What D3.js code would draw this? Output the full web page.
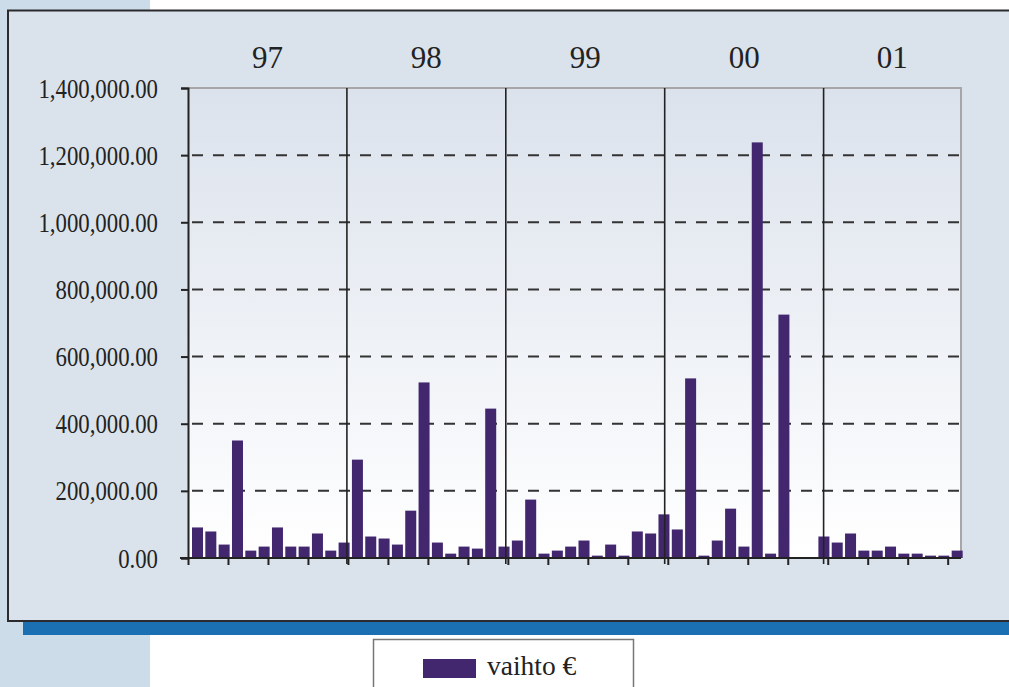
<!DOCTYPE html>
<html>
<head>
<meta charset="utf-8">
<script src="https://cdn.jsdelivr.net/npm/d3@7"></script>
<style>
  body { margin: 0; background: #fff; }
  svg { display: block; }
  text { font-family: "Liberation Serif", "DejaVu Serif", serif; fill: #222; }
</style>
</head>
<body>
<svg id="chart" width="1009" height="687"></svg>
<script>
// monthly values, Jan 97 .. Oct 01
const years = ['97', '98', '99', '00', '01']
const vaihto = [
  91000, 79000, 40000, 350000, 22000, 34000, 91000, 34000, 34000, 73000, 22000, 46000,
  293000, 64000, 58000, 40000, 141000, 523000, 46000, 13000, 34000, 28000, 445000, 34000,
  52000, 174000, 13000, 22000, 34000, 52000, 7000, 40000, 7000, 79000, 73000, 130000,
  85000, 535000, 7000, 52000, 147000, 34000, 1238000, 13000, 725000, 0, 0, 64000,
  46000, 73000, 22000, 22000, 34000, 13000, 13000, 7000, 7000, 22000
]
const yTicks = [0, 200000, 400000, 600000, 800000, 1000000, 1200000, 1400000]
const legendLabel = 'vaihto €'

const svg = d3.select('#chart')
const barColor = '#42276f'

// page background pieces
svg.append('rect').attr('x', 0).attr('y', 0).attr('width', 150).attr('height', 687).attr('fill', '#ccdce8')
svg.append('rect').attr('x', 23).attr('y', 620).attr('width', 986).attr('height', 15).attr('fill', '#1a70b2')
svg.append('rect')
  .attr('x', 8).attr('y', 10.5).attr('width', 1003).attr('height', 610.5)
  .attr('fill', '#dae2ec').attr('stroke', '#2b2b2e').attr('stroke-width', 2)

const plot = { left: 188, right: 961, top: 88, bottom: 558 }
const w = plot.right - plot.left

const defs = svg.append('defs')
const grad = defs.append('linearGradient').attr('id', 'bg').attr('x1', 0).attr('y1', 0).attr('x2', 0).attr('y2', 1)
grad.append('stop').attr('offset', '0%').attr('stop-color', '#dbe2ec')
grad.append('stop').attr('offset', '100%').attr('stop-color', '#ffffff')

const g = svg.append('g')

g.append('rect')
  .attr('x', plot.left).attr('y', plot.top)
  .attr('width', w).attr('height', plot.bottom - plot.top)
  .attr('fill', 'url(#bg)')

const x = d3.scaleLinear()
  .domain([0, vaihto.length])
  .range([plot.left, plot.right])

// year sections are a bit narrower than 12 month slots in the original
const xYear = d3.scaleLinear()
  .domain([0, 1])
  .range([plot.left, plot.left + 158.9])

const y = d3.scaleLinear()
  .domain([0, 1400000])
  .range([plot.bottom, plot.top])

// dashed gridlines
g.selectAll('.grid')
  .data(yTicks.filter(d => d > 0 && d < 1400000))
  .enter().append('line')
  .attr('class', 'grid')
  .attr('x1', plot.left).attr('x2', plot.right)
  .attr('y1', d => y(d)).attr('y2', d => y(d))
  .attr('stroke', '#333').attr('stroke-width', 2)
  .attr('stroke-dasharray', '11,10')
  .attr('stroke-dashoffset', -4)

// plot border top and right (grey)
g.append('path')
  .attr('d', `M${plot.left},${plot.top}H${plot.right}V${plot.bottom}`)
  .attr('fill', 'none').attr('stroke', '#a8a6a6').attr('stroke-width', 2)

// bars
g.selectAll('rect.bar')
  .data(vaihto)
  .enter().append('rect')
  .attr('class', 'bar')
  .attr('x', (d, i) => x(i) + 4)
  .attr('y', d => y(d))
  .attr('width', 11)
  .attr('height', d => y(0) - y(d))
  .attr('fill', barColor)

// year separators
g.selectAll('.sep')
  .data(d3.range(1, years.length))
  .enter().append('line')
  .attr('class', 'sep')
  .attr('x1', d => xYear(d)).attr('x2', d => xYear(d))
  .attr('y1', plot.top).attr('y2', plot.bottom + 6)
  .attr('stroke', '#222').attr('stroke-width', 1.6)

// year labels
g.selectAll('.year')
  .data(years)
  .enter().append('text')
  .attr('class', 'year')
  .attr('x', (d, i) => (xYear(i) + Math.min(xYear(i + 1), plot.right)) / 2)
  .attr('y', 68)
  .attr('text-anchor', 'middle')
  .style('font-size', '31px')
  .text(d => d)

// left axis
const yAxis = g.append('g')
  .attr('transform', `translate(${plot.left},0)`)
  .call(d3.axisLeft(y).tickValues(yTicks).tickSize(7).tickFormat(''))
yAxis.select('.domain').attr('stroke', '#222').attr('stroke-width', 2)
yAxis.selectAll('.tick line').attr('stroke', '#222').attr('stroke-width', 2)

const fmt = d3.format(',.2f')
g.selectAll('.ylab')
  .data(yTicks)
  .enter().append('g')
  .attr('transform', d => `translate(158,${y(d) + 9.5}) scale(0.86,1.04)`)
  .append('text')
  .attr('text-anchor', 'end')
  .style('font-size', '26.5px')
  .text(d => fmt(d))

// bottom axis
const xAxis = g.append('g')
  .attr('transform', `translate(0,${plot.bottom})`)
  .call(d3.axisBottom(x).tickValues(d3.range(0, vaihto.length, 3)).tickSize(7).tickFormat('').tickSizeOuter(0))
xAxis.select('.domain').attr('stroke', '#222').attr('stroke-width', 2)
  .attr('d', `M${plot.left - 8},0H${plot.right}`)
xAxis.selectAll('.tick line').attr('stroke', '#222').attr('stroke-width', 2)

// legend
const lg = svg.append('g').attr('transform', 'translate(373,639)')
lg.append('rect').attr('x', 0.5).attr('y', 0.5).attr('width', 260).attr('height', 60)
  .attr('fill', '#fff').attr('stroke', '#777').attr('stroke-width', 1.5)
lg.append('rect').attr('x', 50).attr('y', 20).attr('width', 53).attr('height', 19).attr('fill', barColor)
lg.append('text').attr('x', 114).attr('y', 36).style('font-size', '27.5px').text(legendLabel)
</script>
</body>
</html>
